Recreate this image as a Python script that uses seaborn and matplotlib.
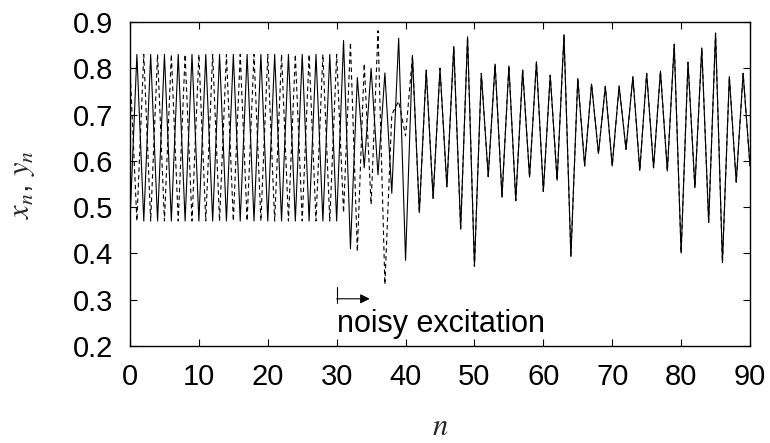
import numpy as np
import pandas as pd
import matplotlib
matplotlib.use("Agg")
import matplotlib.pyplot as plt
import seaborn as sns

# ---- data ----
n_values = list(range(0, 91))

x_series = [
    0.47, 0.83, 0.47, 0.83, 0.47, 0.83, 0.47, 0.83, 0.47, 0.83,   # 0-9
    0.47, 0.83, 0.47, 0.83, 0.47, 0.83, 0.47, 0.83, 0.47, 0.83,   # 10-19
    0.47, 0.83, 0.47, 0.83, 0.47, 0.83, 0.47, 0.83, 0.47, 0.83,   # 20-29
    0.47, 0.860, 0.410, 0.780, 0.585, 0.800, 0.570, 0.790, 0.530, 0.865,  # 30-39
    0.385, 0.828, 0.488, 0.796, 0.519, 0.800, 0.544, 0.847, 0.453, 0.868,  # 40-49
    0.372, 0.789, 0.566, 0.809, 0.522, 0.805, 0.514, 0.796, 0.565, 0.814,  # 50-59
    0.534, 0.785, 0.558, 0.872, 0.394, 0.778, 0.589, 0.766, 0.616, 0.761,  # 60-69
    0.589, 0.762, 0.625, 0.782, 0.579, 0.789, 0.585, 0.794, 0.578, 0.852,  # 70-79
    0.401, 0.813, 0.542, 0.844, 0.467, 0.876, 0.380, 0.782, 0.554, 0.789,  # 80-89
    0.589,                                                                 # 90
]

y_series = [
    0.80, 0.47, 0.83, 0.47, 0.83, 0.47, 0.83, 0.47, 0.83, 0.47,   # 0-9
    0.83, 0.47, 0.83, 0.47, 0.83, 0.47, 0.83, 0.47, 0.83, 0.47,   # 10-19
    0.83, 0.47, 0.83, 0.47, 0.83, 0.47, 0.83, 0.47, 0.83, 0.47,   # 20-29
    0.83, 0.488, 0.856, 0.404, 0.810, 0.506, 0.881, 0.333, 0.700, 0.729,  # 30-39
    0.654, 0.826, 0.488, 0.796, 0.519, 0.800, 0.544, 0.847, 0.453, 0.868,  # 40-49
    0.372, 0.789, 0.566, 0.809, 0.522, 0.805, 0.514, 0.796, 0.565, 0.814,  # 50-59
    0.534, 0.785, 0.558, 0.872, 0.394, 0.778, 0.589, 0.766, 0.616, 0.761,  # 60-69
    0.589, 0.762, 0.625, 0.782, 0.579, 0.789, 0.585, 0.794, 0.578, 0.852,  # 70-79
    0.401, 0.813, 0.542, 0.844, 0.467, 0.876, 0.380, 0.782, 0.554, 0.789,  # 80-89
    0.589,                                                                 # 90
]

x_ticks = [0, 10, 20, 30, 40, 50, 60, 70, 80, 90]
y_ticks = [0.2, 0.3, 0.4, 0.5, 0.6, 0.7, 0.8, 0.9]

annotation_text = "noisy excitation"
excitation_start = 30
arrow_end = 34.8

# ---- styling ----
sns.set_style("ticks")
plt.rcParams['font.family'] = ['Liberation Sans', 'DejaVu Sans']
plt.rcParams['mathtext.fontset'] = 'stix'

df = pd.DataFrame({
    "n": n_values * 2,
    "value": x_series + y_series,
    "series": ["x"] * len(n_values) + ["y"] * len(n_values),
})

fig = plt.figure(figsize=(7.7, 4.43), dpi=100)
ax = fig.add_axes([130 / 770, 1 - 346 / 443, 620 / 770, 324 / 443])

sns.lineplot(data=df, x="n", y="value", style="series",
             dashes={"x": "", "y": (4, 3)}, color="black",
             linewidth=0.8, estimator=None, errorbar=None,
             legend=False, ax=ax, sort=False)

ax.set_xlim(0, 90)
ax.set_ylim(0.2, 0.9)
ax.set_xticks(x_ticks)
ax.set_xticklabels([str(t) for t in x_ticks])
ax.set_yticks(y_ticks)
ax.set_yticklabels([f"{t:.1f}" for t in y_ticks])

ax.tick_params(direction="in", length=5, width=0.8, labelsize=21,
               top=True, right=True, pad=12, colors="black")
for sp in ax.spines.values():
    sp.set_visible(True)
    sp.set_linewidth(1.0)
    sp.set_color("black")

ax.set_xlabel(r"$n$", fontsize=22)
ax.set_ylabel(r"$x_n$, $y_n$", fontsize=22)
ax.xaxis.set_label_coords(0.5, -0.205)
ax.yaxis.set_label_coords(-0.15, 0.5)

# annotation: start bar, arrow, text
ax.plot([excitation_start, excitation_start], [0.293, 0.3285], color="black", linewidth=0.8)
ax.annotate("", xy=(arrow_end, 0.302), xytext=(excitation_start, 0.302),
            arrowprops=dict(arrowstyle="-|>", color="black", lw=0.8,
                            mutation_scale=14, shrinkA=0, shrinkB=0))
ax.text(excitation_start, 0.231, annotation_text, fontsize=22,
        ha="left", va="baseline", color="black")

fig.savefig("out.png", dpi=100)
